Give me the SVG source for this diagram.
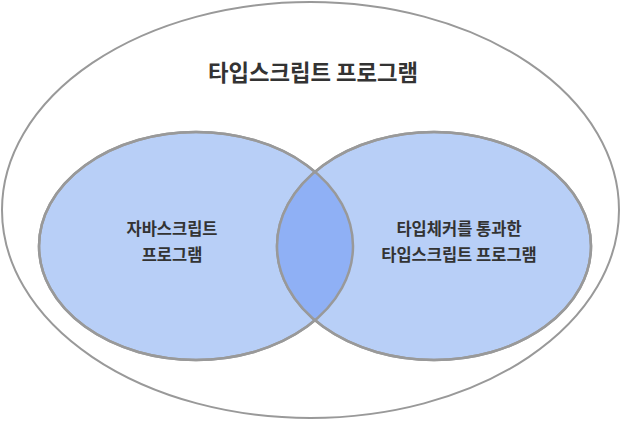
<svg xmlns="http://www.w3.org/2000/svg" width="621" height="421" viewBox="0 0 621 421">
<defs>
<style>
.t{font-family:"Noto Sans CJK KR","Noto Sans",sans-serif;font-weight:bold;fill:#333;text-anchor:middle}
.set{fill:#b8cff7;stroke:#999;stroke-width:2.5}
</style>
<clipPath id="clipL"><ellipse cx="196" cy="246" rx="157" ry="114"/></clipPath>
</defs>
<g id="outer">
<ellipse cx="310.5" cy="210" rx="308.5" ry="208" fill="#fff" stroke="#999" stroke-width="2"/>
<text class="t" x="313" y="81" font-size="22.3">타입스크립트 프로그램</text>
</g>
<g id="left">
<ellipse class="set" cx="196" cy="246" rx="157" ry="114"/>
</g>
<g id="right">
<ellipse class="set" cx="434" cy="246" rx="157" ry="114"/>
</g>
<g id="intersection">
<ellipse cx="434" cy="246" rx="157" ry="114" fill="#8fb0f5" clip-path="url(#clipL)"/>
<ellipse cx="196" cy="246" rx="157" ry="114" fill="none" stroke="#999" stroke-width="2.5"/>
<ellipse cx="434" cy="246" rx="157" ry="114" fill="none" stroke="#999" stroke-width="2.5"/>
</g>
<g id="labels">
<text class="t" x="172" y="235" font-size="16.5">자바스크립트</text>
<text class="t" x="172" y="261" font-size="16.5">프로그램</text>
<text class="t" x="459" y="235" font-size="16.5">타입체커를 통과한</text>
<text class="t" x="459" y="261" font-size="16.5">타입스크립트 프로그램</text>
</g>
</svg>
